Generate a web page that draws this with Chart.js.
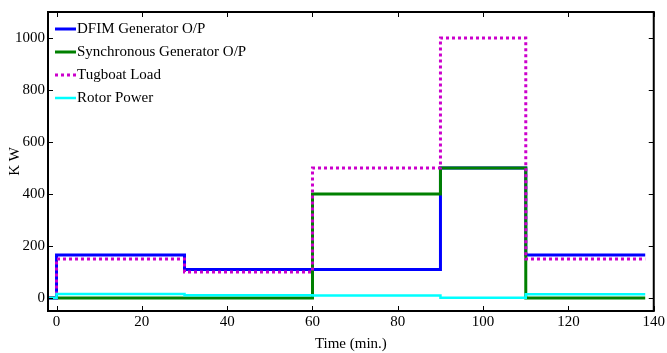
<!DOCTYPE html>
<html>
<head>
<meta charset="utf-8">
<script src="https://cdn.jsdelivr.net/npm/chart.js@4"></script>
<style>
  html, body { margin: 0; padding: 0; background: #fff; }
  #wrap { width: 667px; height: 353px; }
</style>
</head>
<body>
<div id="wrap"><canvas id="c"></canvas></div>
<script>
/* step times (min.) and the value held from each time onward */
const timeBreaks = [-2, 0, 30, 60, 90, 110, 138];
const dfimOut    = [0, 165, 110, 110, 500, 165, 165];
const syncOut    = [0, 0, 0, 400, 500, 0, 0];
const tugLoad    = [0, 150, 100, 500, 1000, 150, 150];
const rotorPower = [0, 15, 11, 10, 1, 14, 14];

const xTicks = [0, 20, 40, 60, 80, 100, 120, 140];
const yTicks = [0, 200, 400, 600, 800, 1000];

const FONT = "Liberation Serif";
const pts = vals => timeBreaks.map((t, i) => ({ x: t, y: vals[i] }));

/* MATLAB-ish box with inward ticks on all four sides */
const boxTicks = {
  id: "boxTicks",
  afterDatasetsDraw(chart) {
    const { ctx, chartArea: a, scales } = chart;
    ctx.save();
    ctx.strokeStyle = "#000";
    ctx.lineWidth = 1;
    const len = 5;
    ctx.beginPath();
    xTicks.forEach(v => {
      const px = Math.round(scales.x.getPixelForValue(v)) + 0.5;
      ctx.moveTo(px, a.bottom); ctx.lineTo(px, a.bottom - len);
      ctx.moveTo(px, a.top); ctx.lineTo(px, a.top + len);
    });
    yTicks.forEach(v => {
      const py = Math.round(scales.y.getPixelForValue(v)) + 0.5;
      ctx.moveTo(a.left, py); ctx.lineTo(a.left + len, py);
      ctx.moveTo(a.right, py); ctx.lineTo(a.right - len, py);
    });
    ctx.stroke();
    ctx.lineWidth = 2;
    ctx.strokeRect(a.left, a.top, a.right - a.left, a.bottom - a.top);
    ctx.restore();
  }
};

/* legend drawn inside the axes, top-left, no frame */
const legendInside = {
  id: "legendInside",
  afterDraw(chart) {
    const { ctx, chartArea: a } = chart;
    ctx.save();
    ctx.font = "15px '" + FONT + "'";
    ctx.textBaseline = "middle";
    chart.data.datasets.forEach((ds, i) => {
      const y = a.top + 17 + i * 23;
      ctx.strokeStyle = ds.borderColor;
      ctx.lineWidth = ds.borderWidth;
      ctx.setLineDash(ds.borderDash || []);
      ctx.beginPath();
      ctx.moveTo(a.left + 7, y);
      ctx.lineTo(a.left + 28, y);
      ctx.stroke();
      ctx.setLineDash([]);
      ctx.fillStyle = "#000";
      ctx.fillText(ds.label, a.left + 29, y);
    });
    ctx.restore();
  }
};

const common = { stepped: "before", pointRadius: 0, fill: false, tension: 0 };

new Chart(document.getElementById("c"), {
  type: "line",
  data: {
    datasets: [
      { ...common, label: "DFIM Generator O/P", data: pts(dfimOut),
        borderColor: "#0000ff", borderWidth: 3, order: 4 },
      { ...common, label: "Synchronous Generator O/P", data: pts(syncOut),
        borderColor: "#008000", borderWidth: 3, order: 3 },
      { ...common, label: "Tugboat Load", data: pts(tugLoad),
        borderColor: "#cc00cc", borderWidth: 3, borderDash: [3, 3], order: 2 },
      { ...common, label: "Rotor Power", data: pts(rotorPower),
        borderColor: "#00ffff", borderWidth: 2.5, order: 1 },
    ],
  },
  options: {
    responsive: true, maintainAspectRatio: false, animation: false,
    layout: { padding: { top: 8, right: 10, left: 0, bottom: 0 } },
    plugins: { legend: { display: false }, tooltip: { enabled: false } },
    scales: {
      x: {
        type: "linear", min: -2, max: 140,
        afterBuildTicks: s => { s.ticks = xTicks.map(v => ({ value: v })); },
        afterFit: s => { s.height = 42; },
        grid: { display: false, drawTicks: false },
        border: { display: false },
        ticks: { color: "#000", padding: 2, maxRotation: 0, callback: v => String(v),
                 font: { family: FONT, size: 15 } },
        title: { display: true, text: "Time (min.)", color: "#000",
                 padding: { top: 2, bottom: 0 }, font: { family: FONT, size: 15 } },
      },
      y: {
        type: "linear", min: -50, max: 1100,
        afterBuildTicks: s => { s.ticks = yTicks.map(v => ({ value: v })); },
        afterFit: s => { s.width = 48; },
        grid: { display: false, drawTicks: false },
        border: { display: false },
        ticks: { color: "#000", padding: 3, callback: v => String(v),
                 font: { family: FONT, size: 15 } },
        title: { display: true, text: "K W", color: "#000",
                 padding: { top: 6, bottom: 0 }, font: { family: FONT, size: 15 } },
      },
    },
  },
  plugins: [boxTicks, legendInside],
});
</script>
</body>
</html>
